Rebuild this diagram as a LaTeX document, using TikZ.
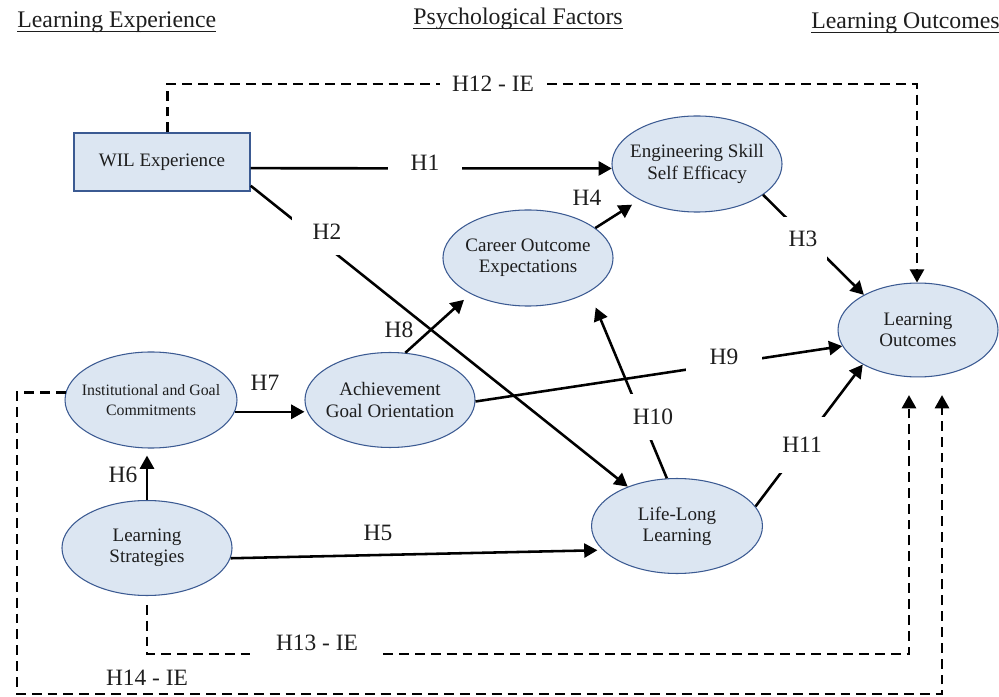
\documentclass[tikz,border=0pt]{standalone}
\usepackage{fontspec}
\setmainfont{Liberation Serif}
\usetikzlibrary{arrows.meta,shapes.geometric}
\definecolor{efill}{HTML}{DCE6F2}
\definecolor{edraw}{HTML}{3B5A92}
\definecolor{txt}{HTML}{1E1E1E}
\begin{document}
\begin{tikzpicture}[x=0.5675pt, y=-0.5675pt,
  ell/.style={ellipse, draw=edraw, line width=0.6pt, fill=efill, inner sep=0pt},
  ntext/.style={align=center, text=txt, inner sep=0pt, font=\fontsize{10.8pt}{12pt}\selectfont},
  hdr/.style={inner sep=0pt, text=txt, font=\fontsize{13.5pt}{15pt}\selectfont},
  hlbl/.style={text=txt, inner sep=0pt, font=\fontsize{13.3pt}{15pt}\selectfont},
  gap/.style={hlbl, fill=white},
  conn/.style={line width=1.45pt, draw=black, -{Triangle[length=7.5pt,width=8pt]}},
  dconn/.style={conn, dash pattern=on 5.6pt off 3.4pt}
]
\fill[white] (0,0) rectangle (999,697);
\useasboundingbox (0,0) rectangle (999,697);

% headers
\node[hdr, anchor=base west] (hle) at (17,28) {Learning Experience};
\node[hdr, anchor=base] (hpf) at (518,25) {Psychological Factors};
\node[hdr, anchor=base west] (hlo) at (811,29) {Learning Outcomes};
\draw[line width=0.6pt, txt] ([yshift=-2pt]hle.base west) -- ([yshift=-2pt]hle.base east);
\draw[line width=0.6pt, txt] ([yshift=-2pt]hpf.base west) -- ([yshift=-2pt]hpf.base east);
\draw[line width=0.6pt, txt] ([yshift=-2pt]hlo.base west) -- ([yshift=-2pt]hlo.base east);

% nodes
\node[draw=edraw, line width=0.8pt, fill=efill, minimum width=99.9pt, minimum height=32.9pt, inner sep=0pt] (wil) at (162,162) {};
\node[ntext] (wil-t) at (wil) {WIL Experience};

\node[ell, minimum width=96.5pt, minimum height=54.5pt] (eng) at (697,164) {};
\node[ntext] (eng-t) at (eng) {Engineering Skill\\Self Efficacy};

\node[ell, minimum width=96.5pt, minimum height=54.5pt] (coe) at (528,258) {};
\node[ntext] (coe-t) at (coe) {Career Outcome\\Expectations};

\node[ell, minimum width=90.8pt, minimum height=53.3pt] (lo) at (918,330) {};
\node[ntext] (lo-t) at (lo) {Learning\\Outcomes};

\node[ell, minimum width=97.6pt, minimum height=54.5pt] (igc) at (151,400) {};
\node[ntext, font=\fontsize{9pt}{11pt}\selectfont] (igc-t) at (igc) {Institutional and Goal\\Commitments};

\node[ell, minimum width=96.5pt, minimum height=53.9pt] (ago) at (390,400) {};
\node[ntext] (ago-t) at (ago) {Achievement\\Goal Orientation};

\node[ell, minimum width=96.5pt, minimum height=53.9pt] (ls) at (147,548) {};
\node[ntext] (ls-t) at (ls) {Learning\\Strategies};

\node[ell, minimum width=97pt, minimum height=53.9pt] (ll) at (677,526) {};
\node[ntext] (ll-t) at (ll) {Life-Long\\Learning};

% solid connectors
\draw[conn] (wil.-4.5) -- (eng.183);
\draw[conn] (wil.-15) -- (ll);
\draw[conn] (eng.-25) -- (lo.147);
\draw[conn, shorten >=5pt] (coe.24) -- (eng.212);
\draw[conn, shorten >=3pt] (ls.-7) -- (ll.198);
\draw[conn, shorten >=4pt] (ls.north) -- (ls.north |- igc.south);
\draw[conn] (igc.-8) -- (igc.-8 -| ago.west);
\draw[conn, shorten >=5pt] (ago.72) -- (coe.212);
\draw[conn] (ago.-1) -- (lo.192);
\draw[conn, shorten >=9.6pt] (ll.102) -- (coe.-29);
\draw[conn] (ll.14) -- (lo.212);

% dashed connectors
\coordinate (c12) at (917,84);
\draw[dconn] (wil.80) |- (c12) -- (c12 |- lo.north);
\coordinate (c13) at (909,654);
\draw[dconn, shorten <=5pt, shorten >=10pt] (ls.south) |- (c13) -- (c13 |- lo.south);
\coordinate (c14a) at (17,694);
\coordinate (c14b) at (942,694);
\draw[dconn, shorten >=10pt] (igc.175) -| (c14a) -- (c14b) -- (c14b |- lo.south);

% labels
\node[gap, inner xsep=13pt, inner ysep=2.3pt] (l1) at (425,163) {H1};
\node[gap, inner xsep=11.6pt, inner ysep=8.8pt] (l2) at (327,232) {H2};
\node[gap, inner xsep=5.7pt, inner ysep=8.1pt] (l3) at (803,239) {H3};
\node[hlbl] (l4) at (587,198) {H4};
\node[hlbl] (l5) at (378,533) {H5};
\node[hlbl] (l6) at (123,475) {H6};
\node[hlbl] (l7) at (265,383) {H7};
\node[hlbl] (l8) at (399,330) {H8};
\node[gap, inner xsep=13.3pt, inner ysep=4pt] (l9) at (724,357) {H9};
\node[gap, inner xsep=4.5pt, inner ysep=8.5pt] (l10) at (653,417) {H10};
\node[gap, inner xsep=2.8pt, inner ysep=11.4pt] (l11) at (802,445) {H11};
\node[gap, inner xsep=6.8pt, inner ysep=2.5pt] (l12) at (493,84) {H12 - IE};
\node[gap, inner xsep=12.8pt, inner ysep=3pt] (l13) at (317,643) {H13 - IE};
\node[hlbl] (l14) at (147,678) {H14 - IE};
\end{tikzpicture}
\end{document}
